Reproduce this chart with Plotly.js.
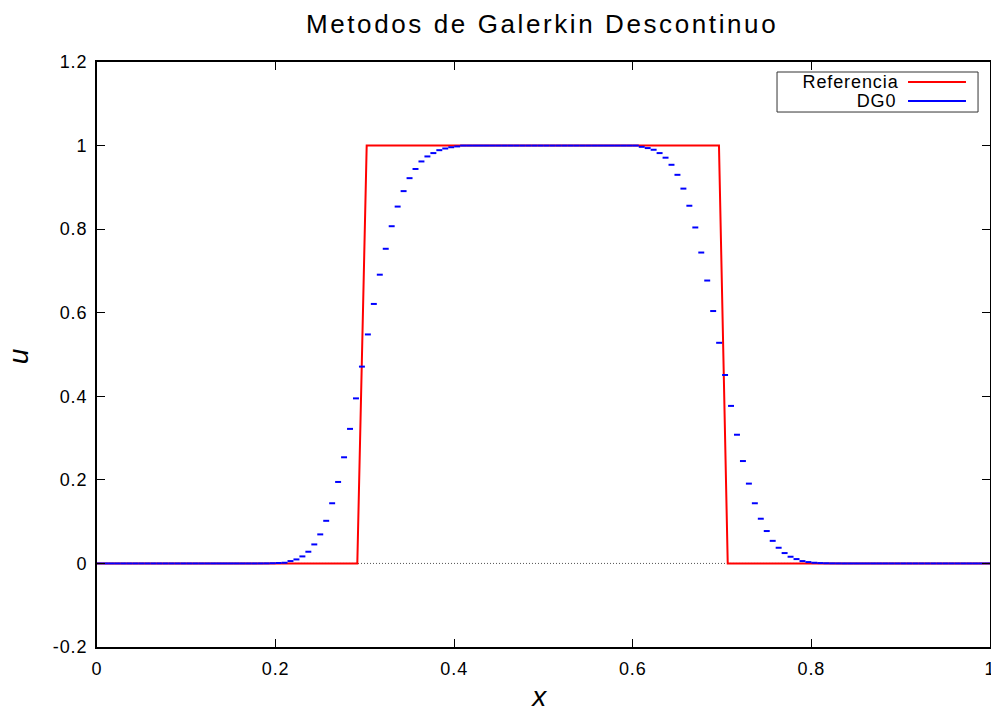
<!DOCTYPE html>
<html>
<head>
<meta charset="utf-8">
<script src="https://cdn.plot.ly/plotly-3.0.1.min.js"></script>
<style>
  html, body { margin: 0; padding: 0; background: #fff; }
  #chart { width: 991px; height: 711px; }
  #chart svg text { letter-spacing: 0.05em; }
  #chart svg .gtitle { letter-spacing: 0.1em; }
</style>
</head>
<body>
<div id="chart"></div>
<script>
// ---- Data ----
const nCells = 150;                       // number of DG0 cells on [0, 1]

// Reference (exact) solution, as drawn
const refX = [0, 0.2915, 0.302, 0.6965, 0.7063, 1];
const refU = [0, 0, 1, 1, 0, 0];

// DG0 cell averages (one value per cell, cells 0..149)
const dg0U = [
  0,0,0,0,0,0,0,0,0,0,
  0,0,0,0,0,0,0,0,0,0,
  0,0,0,0,0,0,0,
  0.0001,0.0002,0.0005,0.001,
  0.0016,0.0056,0.0096,0.0168,0.028,0.0455,0.0695,0.102,0.144,0.195,
  0.254,0.322,0.395,0.471,0.548,0.621,0.691,0.753,0.807,0.854,
  0.891,0.922,0.944,0.962,0.974,0.982,0.989,0.993,0.996,0.998,
  1,1,1,1,1,1,1,1,1,1,
  1,1,1,1,1,1,1,1,1,1,
  1,1,1,1,1,1,1,1,1,1,
  0.997,0.994,0.990,0.982,0.971,0.954,0.930,0.897,0.856,0.804,
  0.744,0.677,0.604,0.528,0.451,0.377,0.308,0.245,0.191,0.144,
  0.107,0.0775,0.054,0.0375,0.0248,0.016,0.0104,0.0056,0.0032,0.0016,
  0.0008,0.0004,0.0002,0.0001,
  0,0,0,0,0,0,0,0,0,0,
  0,0,0,0,0,0,0,0,0,0,
  0,0,0,0,0
];

const xTickVals = [0, 0.2, 0.4, 0.6, 0.8, 1];
const xTickText = ['0', '0.2', '0.4', '0.6', '0.8', '1'];
const yTickVals = [-0.2, 0, 0.2, 0.4, 0.6, 0.8, 1, 1.2];
const yTickText = ['-0.2', '0', '0.2', '0.4', '0.6', '0.8', '1', '1.2'];

const legendNames = ['Referencia', 'DG0'];
const seriesColors = ['#ff0000', '#0000ff'];

// ---- Build the piecewise-constant DG0 segments ----
const dgX = [], dgY = [];
for (let i = 0; i < nCells; i++) {
  dgX.push(i / nCells, (i + 1) / nCells, null);
  dgY.push(dg0U[i], dg0U[i], null);
}

const FONT = 'Liberation Sans, Arial, Helvetica, sans-serif';

const traces = [
  {
    x: refX, y: refU, type: 'scatter', mode: 'lines', name: legendNames[0],
    line: { color: seriesColors[0], width: 2 }, showlegend: false, hoverinfo: 'skip'
  },
  {
    x: dgX, y: dgY, type: 'scatter', mode: 'lines', name: legendNames[1],
    line: { color: seriesColors[1], width: 2 }, connectgaps: false,
    showlegend: false, hoverinfo: 'skip'
  }
];

// Manual gnuplot-style legend (text on left, sample line on right)
const lg = { x0: 0.7615, x1: 0.9866, y0: 0.9145, y1: 0.9829,
             textX: 0.8959, lineX0: 0.9082, lineX1: 0.9731,
             rows: [0.9658, 0.9333] };

const shapes = [
  // dotted zero axis
  { type: 'line', xref: 'x', yref: 'y', x0: 0, x1: 1, y0: 0, y1: 0, layer: 'below',
    line: { color: '#555', width: 1, dash: '1px,2px' } },
  // legend box
  { type: 'rect', xref: 'paper', yref: 'paper', x0: lg.x0, x1: lg.x1, y0: lg.y0, y1: lg.y1,
    line: { color: '#333', width: 1 }, fillcolor: 'rgba(255,255,255,0)' }
];
const annotations = [];
legendNames.forEach((nm, k) => {
  shapes.push({ type: 'line', xref: 'paper', yref: 'paper',
    x0: lg.lineX0, x1: lg.lineX1, y0: lg.rows[k], y1: lg.rows[k],
    line: { color: seriesColors[k], width: 2 } });
  annotations.push({ xref: 'paper', yref: 'paper', x: lg.textX, y: lg.rows[k],
    xanchor: 'right', yanchor: 'middle', showarrow: false, text: nm,
    font: { family: FONT, size: 18, color: '#000' } });
});
// axis titles
annotations.push({ xref: 'paper', yref: 'paper', x: 0.496, y: -0.0838,
  xanchor: 'center', yanchor: 'middle', showarrow: false, text: '<i>x</i>',
  font: { family: FONT, size: 28, color: '#000' } });
annotations.push({ xref: 'paper', yref: 'paper', x: -0.0879, y: 0.4974,
  xanchor: 'center', yanchor: 'middle', showarrow: false, text: '<i>u</i>', textangle: -90,
  font: { family: FONT, size: 28, color: '#000' } });

const axisCommon = {
  showgrid: false, zeroline: false, showline: true, linecolor: '#000', linewidth: 2,
  mirror: 'ticks', ticks: 'inside', ticklen: 8, tickwidth: 1, tickcolor: '#000',
  tickfont: { family: FONT, size: 18, color: '#000' }, tickmode: 'array',
  ticklabeloverflow: 'allow', ticklabelstandoff: 4
};

const layout = {
  width: 991, height: 711,
  margin: { l: 97, r: 1, t: 62, b: 64, pad: 0 },
  paper_bgcolor: '#fff', plot_bgcolor: '#fff',
  title: { text: 'Metodos de Galerkin Descontinuo', xref: 'container', yref: 'container',
           x: 0.547, xanchor: 'center', y: 0.966, yanchor: 'middle',
           font: { family: FONT, size: 26, color: '#000' } },
  xaxis: Object.assign({}, axisCommon, { range: [0, 1], tickvals: xTickVals, ticktext: xTickText }),
  yaxis: Object.assign({}, axisCommon, { range: [-0.2, 1.2], tickvals: yTickVals, ticktext: yTickText }),
  shapes: shapes,
  annotations: annotations,
  showlegend: false
};

Plotly.newPlot('chart', traces, layout, { staticPlot: true, displayModeBar: false });
</script>
</body>
</html>
